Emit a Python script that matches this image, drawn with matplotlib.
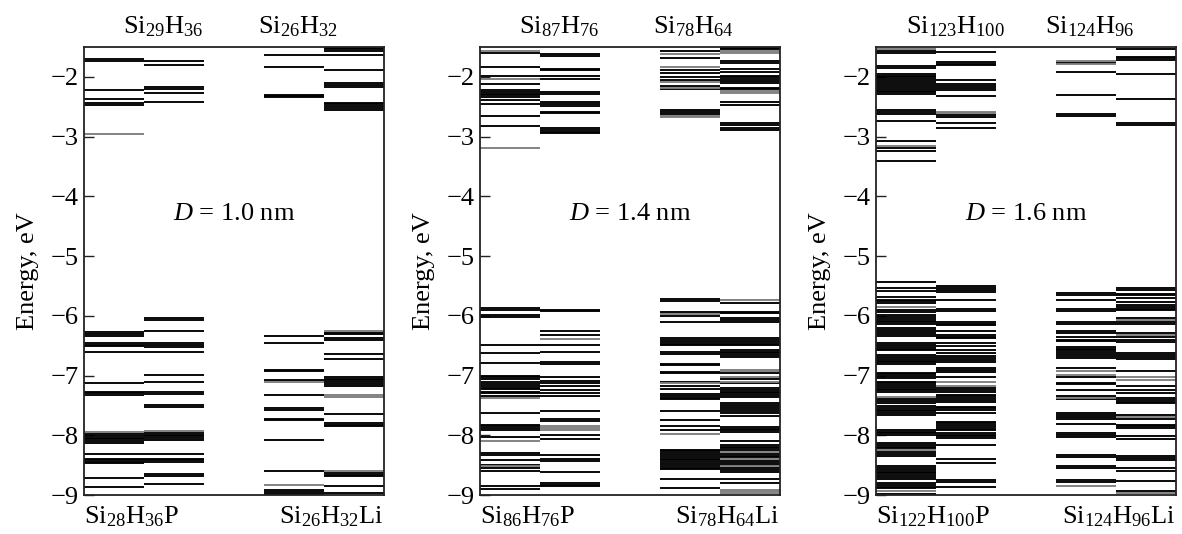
import matplotlib
matplotlib.use("Agg")
import matplotlib.pyplot as plt

plt.rcParams['font.family'] = ['Liberation Serif', 'DejaVu Serif']
plt.rcParams['mathtext.fontset'] = 'custom'
plt.rcParams['mathtext.rm'] = 'Liberation Serif'
plt.rcParams['mathtext.it'] = 'Liberation Serif:italic'
plt.rcParams['axes.unicode_minus'] = True

# ---------------- data ----------------
diameters = ["1.0", "1.4", "1.6"]
top_labels = [
    (r"Si$_{29}$H$_{36}$", r"Si$_{26}$H$_{32}$"),
    (r"Si$_{87}$H$_{76}$", r"Si$_{78}$H$_{64}$"),
    (r"Si$_{123}$H$_{100}$", r"Si$_{124}$H$_{96}$"),
]
bottom_labels = [
    (r"Si$_{28}$H$_{36}$P", r"Si$_{26}$H$_{32}$Li"),
    (r"Si$_{86}$H$_{76}$P", r"Si$_{78}$H$_{64}$Li"),
    (r"Si$_{122}$H$_{100}$P", r"Si$_{124}$H$_{96}$Li"),
]
yticks = [-9, -8, -7, -6, -5, -4, -3, -2]

# Panel 1 (D = 1.0 nm)
p1_c1_black = [-1.70, -1.73, -2.22, -2.37, -2.44, -2.47,
               -6.27, -6.30, -6.33, -6.46, -6.49, -6.51, -6.61, -7.12, -7.27, -7.30, -7.33,
               -7.98, -8.01, -8.04, -8.07, -8.10, -8.13, -8.31, -8.39, -8.42, -8.45, -8.47,
               -8.72, -8.86]
p1_c1_gray = [-2.96, -7.95]
p1_c2_black = [-1.74, -1.80, -2.17, -2.20, -2.27, -2.42,
               -6.04, -6.07, -6.26, -6.46, -6.49, -6.52, -6.61, -6.99, -7.11, -7.28, -7.31,
               -7.50, -7.53, -7.96, -7.99, -8.02, -8.05, -8.08, -8.31, -8.39, -8.42, -8.45,
               -8.65, -8.68, -8.81]
p1_c2_gray = [-7.93]
p1_c3_black = [-1.64, -1.84, -2.30, -2.32, -2.34,
               -6.34, -6.46, -6.90, -6.93, -7.07, -7.32, -7.55, -7.58, -7.72, -7.75, -8.08,
               -8.60, -8.92, -8.95, -8.98]
p1_c3_gray = [-7.10, -8.84]
p1_c4_black = [-1.51, -1.54, -1.57, -1.64, -1.89, -2.10, -2.13, -2.17,
               -2.43, -2.46, -2.49, -2.52, -2.55,
               -6.28, -6.31, -6.37, -6.40, -6.64, -6.72, -7.02, -7.05, -7.08, -7.11, -7.14,
               -7.17, -7.64, -7.80, -7.83, -7.85, -8.63, -8.66, -8.69, -8.85, -8.96]
p1_c4_gray = [-6.25, -7.33, -7.36, -8.60]

# Panel 2 (D = 1.4 nm)
p2_c1_black = [-1.60, -1.84, -1.98, -2.12, -2.22, -2.25, -2.28, -2.31, -2.33, -2.38, -2.46,
               -2.65, -2.83,
               -5.87, -5.90, -5.99, -6.02, -6.49, -6.63, -6.79, -7.00, -7.03, -7.06, -7.10,
               -7.14, -7.17, -7.21, -7.23, -7.27, -7.30, -7.34, -7.63, -7.82, -7.85, -7.88,
               -7.91, -8.03, -8.29, -8.33, -8.41, -8.49, -8.55, -8.60, -8.85, -8.90]
p2_c1_gray = [-1.56, -2.04, -3.19, -7.38, -8.09, -8.52]
p2_c2_black = [-1.62, -1.65, -1.87, -1.89, -1.98, -2.04, -2.25, -2.28, -2.42, -2.45, -2.48,
               -2.58, -2.61, -2.86, -2.89, -2.92, -2.94,
               -5.90, -5.92, -6.26, -6.32, -6.49, -6.61, -6.78, -6.81, -7.02, -7.09, -7.13,
               -7.18, -7.25, -7.30, -7.35, -7.59, -7.73, -7.76, -7.99, -8.07, -8.33, -8.40,
               -8.43, -8.61, -8.80, -8.83, -8.85]
p2_c2_gray = [-6.39, -7.85, -7.88, -7.91]
p2_c3_black = [-1.56, -1.69, -1.89, -1.93, -2.00, -2.05, -2.15, -2.21, -2.56, -2.59, -2.62,
               -5.72, -5.75, -5.93, -6.00, -6.10, -6.38, -6.41, -6.44, -6.47, -6.49, -6.61,
               -6.64, -6.80, -6.82, -6.94, -6.96, -7.10, -7.18, -7.23, -7.31, -7.34, -7.37,
               -7.40, -7.59, -7.74, -7.84, -7.91, -8.24, -8.27, -8.30, -8.33, -8.36, -8.39,
               -8.42, -8.45, -8.48, -8.51, -8.54, -8.57, -8.73, -8.88]
p2_c3_gray = [-1.61, -1.83, -2.09, -2.18, -2.65, -2.68, -5.97, -7.13, -7.98]
p2_c4_black = [-1.51, -1.54, -1.73, -1.76, -1.87, -1.92, -1.98, -2.01, -2.04, -2.07, -2.10,
               -2.18, -2.21, -2.42, -2.47, -2.78, -2.81, -2.86, -2.89,
               -5.78, -5.93, -5.96, -6.04, -6.07, -6.10, -6.38, -6.41, -6.44, -6.47, -6.49,
               -6.57, -6.60, -6.63, -6.66, -6.69, -6.96, -7.06, -7.13, -7.21, -7.24, -7.27,
               -7.30, -7.33, -7.36, -7.46, -7.49, -7.53, -7.56, -7.60, -7.63, -7.67, -7.86,
               -7.89, -7.92, -7.95, -8.10, -8.16, -8.19, -8.22, -8.25, -8.31, -8.34, -8.37,
               -8.43, -8.46, -8.49, -8.55, -8.58, -8.61, -8.73, -8.80]
p2_c4_gray = [-1.56, -1.60, -2.24, -2.27, -5.74, -6.90, -6.93, -7.03, -7.10, -8.28, -8.40,
              -8.52, -8.91, -8.94, -8.97]

# Panel 3 (D = 1.6 nm)
p3_c1_black = [-1.57, -1.60, -1.82, -1.85, -1.95, -1.98, -2.01, -2.04, -2.07, -2.10, -2.14,
               -2.17, -2.20, -2.23, -2.26, -2.29, -2.56, -2.59, -2.62, -2.74, -3.07, -3.19,
               -3.24, -3.41,
               -5.43, -5.54, -5.58, -5.69, -5.74, -5.76, -5.79, -5.90, -5.93, -5.99, -6.02,
               -6.05, -6.08, -6.11, -6.14, -6.21, -6.24, -6.27, -6.30, -6.33, -6.46, -6.49,
               -6.52, -6.55, -6.58, -6.66, -6.69, -6.72, -6.75, -6.78, -6.81, -6.95, -6.98,
               -7.01, -7.04, -7.10, -7.13, -7.16, -7.19, -7.22, -7.25, -7.28, -7.40, -7.43,
               -7.46, -7.51, -7.54, -7.57, -7.60, -7.63, -7.66, -7.91, -7.94, -7.97, -8.00,
               -8.13, -8.16, -8.19, -8.22, -8.28, -8.31, -8.34, -8.52, -8.55, -8.58, -8.61,
               -8.64, -8.67, -8.70, -8.73, -8.80, -8.83, -8.86, -8.89, -8.98]
p3_c1_gray = [-1.54, -3.15, -5.86, -7.36, -8.25, -8.94]
p3_c2_black = [-1.58, -1.75, -1.78, -1.80, -2.05, -2.12, -2.15, -2.19, -2.22, -2.32, -2.64,
               -2.67, -2.78, -2.85,
               -5.50, -5.53, -5.56, -5.60, -5.74, -5.89, -5.92, -6.10, -6.13, -6.15, -6.26,
               -6.32, -6.35, -6.38, -6.46, -6.51, -6.57, -6.62, -6.68, -6.71, -6.74, -6.77,
               -6.88, -6.91, -6.94, -7.02, -7.21, -7.24, -7.27, -7.32, -7.35, -7.38, -7.41,
               -7.44, -7.52, -7.55, -7.58, -7.62, -7.77, -7.80, -7.83, -7.86, -7.89, -7.92,
               -7.96, -7.99, -8.02, -8.05, -8.16, -8.40, -8.46, -8.75, -8.78, -8.87]
p3_c2_gray = [-2.58, -2.61, -7.10, -7.17]
p3_c3_black = [-1.76, -1.92, -2.31, -2.62, -2.65,
               -5.61, -5.65, -5.74, -5.89, -5.92, -6.10, -6.13, -6.25, -6.29, -6.36, -6.40,
               -6.43, -6.52, -6.55, -6.58, -6.61, -6.64, -6.67, -6.70, -6.88, -7.02, -7.12,
               -7.15, -7.24, -7.34, -7.40, -7.63, -7.66, -7.69, -7.72, -7.81, -7.97, -8.00,
               -8.03, -8.33, -8.36, -8.52, -8.55, -8.75, -8.79]
p3_c3_gray = [-1.73, -1.78, -6.93, -6.99, -7.37, -8.85]
p3_c4_black = [-1.53, -1.66, -1.69, -1.71, -1.96, -2.37, -2.77, -2.80,
               -5.54, -5.57, -5.63, -5.65, -5.71, -5.77, -5.82, -5.85, -5.88, -5.91, -6.04,
               -6.10, -6.14, -6.29, -6.35, -6.40, -6.44, -6.63, -6.66, -6.69, -6.72, -6.93,
               -7.18, -7.24, -7.29, -7.38, -7.41, -7.44, -7.46, -7.66, -7.72, -7.82, -7.85,
               -7.88, -8.02, -8.06, -8.35, -8.38, -8.41, -8.55, -8.59, -8.77, -8.94]
p3_c4_gray = [-6.07, -6.32, -7.02, -7.07, -7.69, -8.97]

panel_black = [
    [p1_c1_black, p1_c2_black, p1_c3_black, p1_c4_black],
    [p2_c1_black, p2_c2_black, p2_c3_black, p2_c4_black],
    [p3_c1_black, p3_c2_black, p3_c3_black, p3_c4_black],
]
panel_gray = [
    [p1_c1_gray, p1_c2_gray, p1_c3_gray, p1_c4_gray],
    [p2_c1_gray, p2_c2_gray, p2_c3_gray, p2_c4_gray],
    [p3_c1_gray, p3_c2_gray, p3_c3_gray, p3_c4_gray],
]

# ---------------- layout / style ----------------
col_x = [0, 1, 3, 4]          # left edge of each column of levels
W, H = 1182, 534
fig = plt.figure(figsize=(W / 100, H / 100), dpi=100)
lefts_px = [84, 480, 876]
ax_w, ax_top, ax_bot = 300, 47, 495
FS = 19
LW = 1.35

for i in range(3):
    ax = fig.add_axes([lefts_px[i] / W, (H - ax_bot) / H, ax_w / W, (ax_bot - ax_top) / H])
    for j in range(4):
        x0 = col_x[j]
        ax.hlines(panel_black[i][j], x0, x0 + 1, colors='black', lw=LW)
        ax.hlines(panel_gray[i][j], x0, x0 + 1, colors='#7f7f7f', lw=LW)
    ax.set_xlim(0, 5)
    ax.set_ylim(-9, -1.5)
    ax.set_xticks([])
    ax.set_yticks(yticks)
    ax.tick_params(axis='y', direction='in', length=7, width=1.0, labelsize=FS,
                   pad=4, colors='#222222', labelcolor='black')
    for s in ax.spines.values():
        s.set_linewidth(1.3)
        s.set_color('#222222')
    ax.set_ylabel("Energy, eV", fontsize=FS, labelpad=8)
    ax.text(2.5, -4.3, r"$D$ = " + diameters[i] + " nm", fontsize=FS,
            ha='center', va='center')
    ax.text(1.32, 1.018, top_labels[i][0], transform=ax.get_xaxis_transform(),
            fontsize=FS, ha='center', va='bottom')
    ax.text(3.56, 1.018, top_labels[i][1], transform=ax.get_xaxis_transform(),
            fontsize=FS, ha='center', va='bottom')
    ax.text(0.0, -0.022, bottom_labels[i][0], transform=ax.transAxes,
            fontsize=FS, ha='left', va='top')
    ax.text(1.0, -0.022, bottom_labels[i][1], transform=ax.transAxes,
            fontsize=FS, ha='right', va='top')

fig.savefig("out.png", dpi=100)
